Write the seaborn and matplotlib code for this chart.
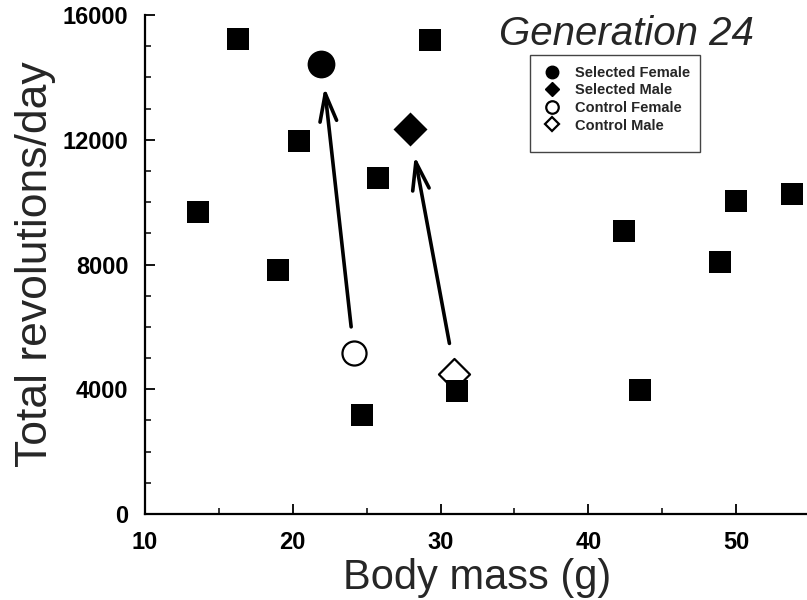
import matplotlib
matplotlib.use("Agg")
import matplotlib.pyplot as plt
from matplotlib.lines import Line2D
from matplotlib.patches import Rectangle
from matplotlib.ticker import MultipleLocator
import seaborn as sns
import pandas as pd

# ---- data ----
square_mass = [13.6, 16.3, 19.0, 20.4, 24.7, 25.8, 29.3, 31.1, 42.4, 43.5, 48.9, 50.0, 53.8]
square_revs = [9680, 15230, 7820, 11950, 3160, 10760, 15200, 3930, 9080, 3980, 8080, 10030, 10250]

group_names = ["Selected Female", "Selected Male", "Control Female", "Control Male"]
group_mass = [21.9, 27.9, 24.15, 30.9]
group_revs = [14430, 12350, 5160, 4490]

arrow_from_mass = [23.95, 30.6]
arrow_from_revs = [6000, 5470]
arrow_to_mass = [22.15, 28.25]
arrow_to_revs = [13680, 11480]

x_ticks = [10, 20, 30, 40, 50]
y_ticks = [0, 4000, 8000, 12000, 16000]

title_text = "Generation 24"
x_label = "Body mass (g)"
y_label = "Total revolutions/day"

# ---- style ----
sns.set_style("ticks")
plt.rcParams["font.family"] = ["Liberation Sans", "DejaVu Sans"]

fig = plt.figure(figsize=(8.07, 6.0), dpi=100)
ax = fig.add_axes([145 / 807, 1 - 514 / 600, 665 / 807, (514 - 15) / 600])

sq_df = pd.DataFrame({"mass": square_mass, "revs": square_revs})
grp_df = pd.DataFrame({"mass": group_mass, "revs": group_revs, "group": group_names})

# control symbols (under squares)
sns.scatterplot(data=grp_df[grp_df.group == "Control Female"], x="mass", y="revs",
                marker="o", s=300, facecolor="white", edgecolor="black",
                linewidth=1.6, ax=ax, zorder=2, legend=False)
sns.scatterplot(data=grp_df[grp_df.group == "Control Male"], x="mass", y="revs",
                marker="D", s=250, facecolor="white", edgecolor="black",
                linewidth=1.6, ax=ax, zorder=2, legend=False)
# squares
sns.scatterplot(data=sq_df, x="mass", y="revs", marker="s", s=250,
                color="black", linewidth=0, ax=ax, zorder=3, legend=False)
# selected symbols
sns.scatterplot(data=grp_df[grp_df.group == "Selected Female"], x="mass", y="revs",
                marker="o", s=400, color="black", linewidth=0, ax=ax, zorder=4, legend=False)
sns.scatterplot(data=grp_df[grp_df.group == "Selected Male"], x="mass", y="revs",
                marker="D", s=300, color="black", linewidth=0, ax=ax, zorder=4, legend=False)

# arrows
for x0, y0, x1, y1 in zip(arrow_from_mass, arrow_from_revs, arrow_to_mass, arrow_to_revs):
    ax.annotate("", xy=(x1, y1), xytext=(x0, y0),
                arrowprops=dict(arrowstyle="->,head_length=1.0,head_width=0.3",
                                lw=2.6, color="black", shrinkA=0, shrinkB=0,
                                mutation_scale=20), zorder=5)

ax.set_xlim(10, 55)
ax.set_ylim(0, 16000)
ax.set_xticks(x_ticks)
ax.set_yticks(y_ticks)
ax.xaxis.set_minor_locator(MultipleLocator(5))
ax.yaxis.set_minor_locator(MultipleLocator(1000))
ax.set_xticklabels([str(v) for v in x_ticks], fontsize=17, fontweight="bold")
ax.set_yticklabels([str(v) for v in y_ticks], fontsize=17, fontweight="bold")
ax.tick_params(axis="both", which="major", direction="in", length=7, width=1.3, colors="black")
ax.tick_params(axis="both", which="minor", direction="in", length=4, width=1.1, colors="black")
ax.tick_params(axis="y", which="major", pad=12)
ax.tick_params(axis="x", which="major", pad=12)

sns.despine(ax=ax, top=True, right=True)
for side in ["left", "bottom"]:
    ax.spines[side].set_linewidth(1.6)
    ax.spines[side].set_color("black")

ax.set_xlabel(x_label, fontsize=30, labelpad=3)
ax.set_ylabel(y_label, fontsize=32, labelpad=5)

fig.text(626 / 807, 1 - 34 / 600, title_text, fontsize=29, style="italic",
         ha="center", va="center")

# legend box drawn as a frame, entries without frame
ax.add_patch(Rectangle((530 / 807, 1 - 152 / 600), 170 / 807, 97 / 600,
                       transform=fig.transFigure, facecolor="white",
                       edgecolor="#444444", linewidth=1.0, zorder=6, clip_on=False))
handles = [
    Line2D([], [], marker="o", linestyle="none", markersize=9, markerfacecolor="black",
           markeredgecolor="black"),
    Line2D([], [], marker="D", linestyle="none", markersize=7.5, markerfacecolor="black",
           markeredgecolor="black"),
    Line2D([], [], marker="o", linestyle="none", markersize=9, markerfacecolor="white",
           markeredgecolor="black", markeredgewidth=1.6),
    Line2D([], [], marker="D", linestyle="none", markersize=7.5, markerfacecolor="white",
           markeredgecolor="black", markeredgewidth=1.6),
]
leg = ax.legend(handles, group_names, loc="upper left",
                bbox_to_anchor=(545 / 807, 1 - 66 / 600), bbox_transform=fig.transFigure,
                frameon=False, handlelength=1.0, handletextpad=1.05, labelspacing=0.24,
                borderpad=0.0, borderaxespad=0.0, prop={"size": 10.5, "weight": "bold"})
leg.set_zorder(7)

fig.savefig("out.png", dpi=100)
